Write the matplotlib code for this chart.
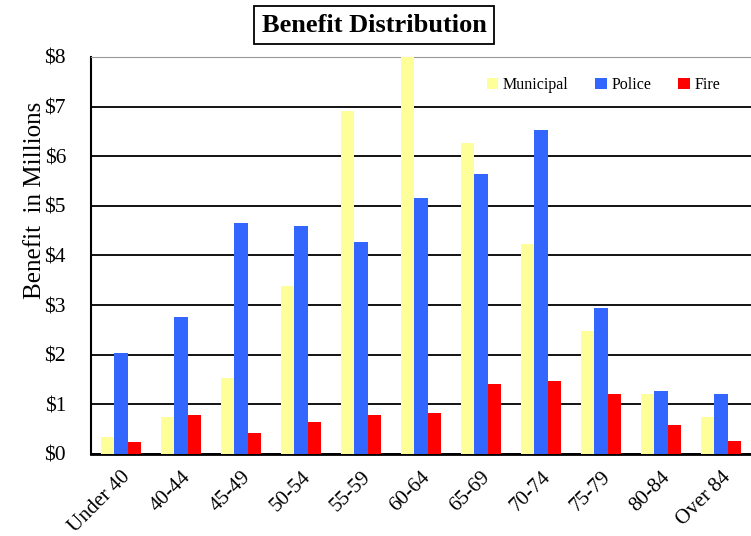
import numpy as np
import matplotlib.pyplot as plt

# Datos del gráfico (millones de dólares)
age_groups = ['Under 40', '40-44', '45-49', '50-54', '55-59', '60-64',
              '65-69', '70-74', '75-79', '80-84', 'Over 84']
municipal = [0.35, 0.74, 1.53, 3.38, 6.91, 8.05, 6.27, 4.24, 2.47, 1.21, 0.74]
police = [2.03, 2.77, 4.65, 4.59, 4.27, 5.15, 5.65, 6.53, 2.94, 1.26, 1.21]
fire = [0.235, 0.79, 0.42, 0.65, 0.79, 0.83, 1.41, 1.48, 1.21, 0.59, 0.27]
y_ticks = [0, 1, 2, 3, 4, 5, 6, 7, 8]

plt.rcParams['font.family'] = ['Liberation Serif', 'DejaVu Serif']

fig = plt.figure(figsize=(7.51, 5.36), dpi=100)
ax = fig.add_axes([0.1212, 0.153, 0.8788, 0.7407])

x = np.arange(len(age_groups))
w = 0.227
ax.bar(x - w, municipal, w, color='#FFFF99', label='Municipal', zorder=3)
ax.bar(x, police, w, color='#3366FF', label='Police', zorder=3)
ax.bar(x + w, fire, w, color='#FF0000', label='Fire', zorder=3)

ax.set_xlim(-0.5, len(age_groups) - 0.5)
ax.set_ylim(0, 8)
ax.set_yticks(y_ticks)
ax.set_yticklabels(['$%d' % v for v in y_ticks], fontsize=15.5)
ax.set_xticks(x)
ax.set_xticklabels(age_groups, rotation=45, ha='right', rotation_mode='anchor', fontsize=15)
ax.tick_params(axis='x', length=0, pad=10)
ax.tick_params(axis='y', length=0, pad=18)

ax.grid(axis='y', color='black', linewidth=1.3, zorder=0)
ax.spines['right'].set_visible(False)
ax.spines['top'].set_color('#999999')
ax.spines['left'].set_linewidth(1.5)
ax.spines['bottom'].set_linewidth(2)

ax.set_ylabel('Benefit  in Millions', fontsize=18)
ax.yaxis.set_label_coords(-0.068, 0.64)

ax.legend(loc='upper right', bbox_to_anchor=(0.975, 0.985), ncol=3, frameon=False,
          fontsize=11.5, handlelength=0.7, handleheight=0.7, handletextpad=0.3,
          columnspacing=1.7)

# Título con recuadro
fig.text(374 / 751, 1 - 25 / 536, 'Benefit Distribution', fontsize=19, fontweight='bold',
         ha='center', va='center',
         bbox=dict(boxstyle='square,pad=0.3', facecolor='white', edgecolor='black', linewidth=1.3))

plt.savefig('out.png', dpi=100)
